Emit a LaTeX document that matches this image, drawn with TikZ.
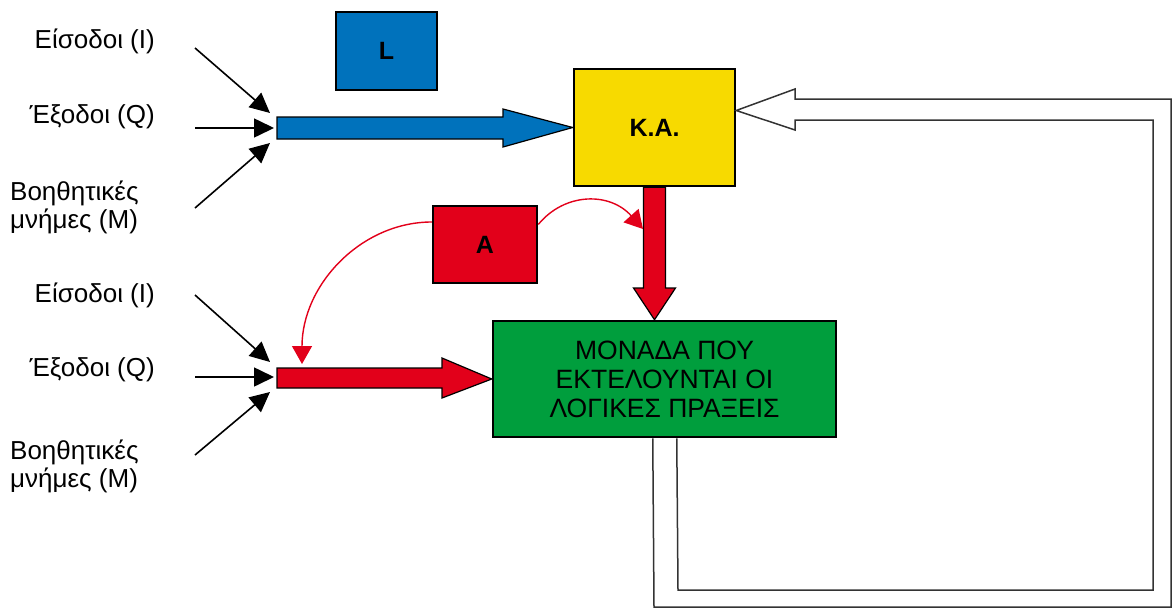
\documentclass[tikz,border=0pt]{standalone}
\usepackage{fontspec}
\setmainfont{Liberation Sans}
\usetikzlibrary{arrows.meta,calc}
\definecolor{plcblue}{RGB}{0,114,188}
\definecolor{plcyellow}{RGB}{247,218,0}
\definecolor{plcred}{RGB}{226,0,26}
\definecolor{plcgreen}{RGB}{0,158,61}
\begin{document}
\begin{tikzpicture}[x=1pt,y=-1pt,
  box/.style={draw=black,line width=2.5pt,inner sep=0pt},
  lbl/.style={font=\fontsize{26}{28}\selectfont,inner sep=0pt},
  tag/.style={font=\fontsize{25}{28}\selectfont\bfseries},
  feed/.style={-{Triangle[length=20pt,width=19pt]},line width=1.6pt},
  fat/.style={draw=black,line width=1.2pt,line join=miter},
  redthin/.style={draw=plcred,line width=1.4pt,-{Triangle[length=18pt,width=20pt]}},
  hollow/.style={draw=black!80,line width=1.5pt,line join=miter}]
\useasboundingbox (0,0) rectangle (1174,608);

% blocks
\node[box,fill=plcblue,minimum width=101pt,minimum height=78pt] (L) at (386.5,51) {};
\node[tag] at (L) {L};
\node[box,fill=plcyellow,minimum width=161pt,minimum height=117pt] (KA) at (654.5,127.5) {};
\node[box,fill=plcred,minimum width=104pt,minimum height=77pt] (A) at (485,244.5) {};
\node[box,fill=plcgreen,minimum width=343pt,minimum height=116pt] (green) at (664.5,379) {};

% operand lines into the instruction register
\coordinate (bIn) at (277,128);
\filldraw[fat,fill=plcblue] ($(bIn)+(0,-11)$) -- (503,117) -- (503,109) -- (KA.west)
  -- (503,147) -- (503,139) -- ($(bIn)+(0,11)$) -- cycle;

% operand lines into the logic unit
\coordinate (rIn) at (277,378);
\filldraw[fat,fill=plcred] ($(rIn)+(0,-10)$) -- (442,368) -- (442,358) -- (green.west)
  -- (442,398) -- (442,388) -- ($(rIn)+(0,10)$) -- cycle;

% control path from K.A. to the logic unit
\filldraw[fat,fill=plcred] ([xshift=-11pt]KA.south) -- ([xshift=-11pt]KA.south |- 0,288)
  -- ([xshift=-21pt]KA.south |- 0,288) -- (KA.south |- green.north)
  -- ([xshift=21pt]KA.south |- 0,288) -- ([xshift=11pt]KA.south |- 0,288)
  -- ([xshift=11pt]KA.south) -- cycle;

% redraw the block borders on top
\node[box,fill=plcyellow,minimum width=161pt,minimum height=117pt] at (KA) {};
\node[tag] at (KA) {K.A.};
\node[tag] at (A) {A};
\node[box,fill=plcgreen,minimum width=343pt,minimum height=116pt] at (green) {};
\node[font=\fontsize{26.5}{29}\selectfont,align=center] at (green) {ΜΟΝΑΔΑ ΠΟΥ\\ΕΚΤΕΛΟΥΝΤΑΙ ΟΙ\\ΛΟΓΙΚΕΣ ΠΡΑΞΕΙΣ};

% the accumulator result goes both ways
\coordinate (aTipL) at (302,364);
\coordinate (aTipR) at (643,229);
\draw[redthin] ([yshift=22.5pt]A.west) .. controls (361,222) and (302,285) .. (aTipL);
\draw[redthin] ([yshift=20pt]A.east) .. controls (565,192) and (610,192) .. (aTipR);

% feedback path from the logic unit back to K.A.
\draw[hollow] ([xshift=185pt]green.south west) -- (678,590) -- (1153,590) -- (1153,120)
  -- (795,120) -- (795,130) -- ([yshift=17pt]KA.east) -- (795,89) -- (795,99)
  -- (1171,99) -- (1171,607) -- (654,607) -- ([xshift=161pt]green.south west);

% upper group of operand labels
\node[lbl,anchor=base east] (i1) at (155,48) {Είσοδοι (Ι)};
\node[lbl,anchor=base east] (q1) at (155,123) {Έξοδοι (Q)};
\node[lbl,anchor=base west,align=left] (m1) at (10,228) {Βοηθητικές\\μνήμες (Μ)};
\coordinate (i1s) at (195,48);  \coordinate (i1e) at (270,113);
\coordinate (q1s) at (195,128); \coordinate (q1e) at (274,128);
\coordinate (m1s) at (195,208); \coordinate (m1e) at (270,143);
\draw[feed] (i1s) -- (i1e);
\draw[feed] (q1s) -- (q1e);
\draw[feed] (m1s) -- (m1e);

% lower group of operand labels
\node[lbl,anchor=base east] (i2) at (155,302) {Είσοδοι (Ι)};
\node[lbl,anchor=base east] (q2) at (155,376) {Έξοδοι (Q)};
\node[lbl,anchor=base west,align=left] (m2) at (10,487) {Βοηθητικές\\μνήμες (Μ)};
\coordinate (i2s) at (195,295); \coordinate (i2e) at (270,362);
\coordinate (q2s) at (195,377); \coordinate (q2e) at (274,377);
\coordinate (m2s) at (195,455); \coordinate (m2e) at (270,392);
\draw[feed] (i2s) -- (i2e);
\draw[feed] (q2s) -- (q2e);
\draw[feed] (m2s) -- (m2e);
\end{tikzpicture}
\end{document}
